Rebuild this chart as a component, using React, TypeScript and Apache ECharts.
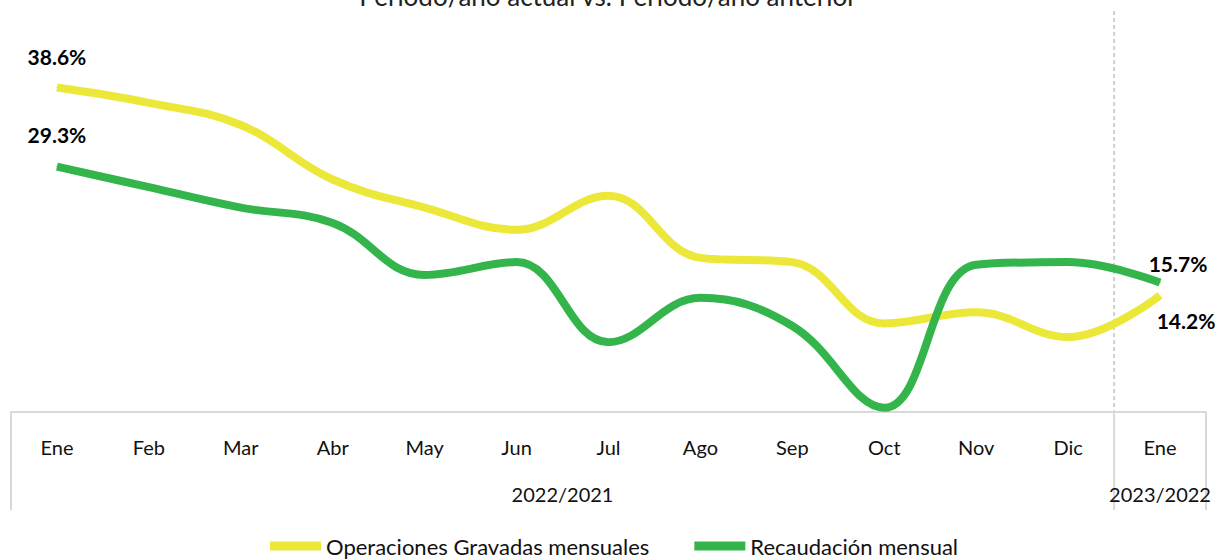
import React, { useEffect, useRef } from "react";
import * as echarts from "echarts";

const categories = ["Ene", "Feb", "Mar", "Abr", "May", "Jun", "Jul", "Ago", "Sep", "Oct", "Nov", "Dic", "Ene"];
const groupLabels = ["2022/2021", "2023/2022"];
const groupSizes = [12, 1];
const operaciones = [38.6, 36.8, 34.2, 27.8, 24.5, 21.9, 25.9, 18.6, 18.1, 10.9, 12.2, 9.3, 14.2];
const recaudacion = [29.3, 26.9, 24.5, 22.7, 16.6, 18.1, 8.7, 13.9, 10.6, 1.0, 17.8, 18.1, 15.7];
const seriesNames = ["Operaciones Gravadas mensuales", "Recaudación mensual"];
const titleText = "Período/año actual vs. Período/año anterior";

const FONT = "Lato, 'Noto Sans', sans-serif";

export default function App() {
  const ref = useRef<HTMLDivElement>(null);
  useEffect(() => {
    if (!ref.current) return;
    const chart = echarts.init(ref.current, null, { renderer: "svg" });
    const W = 1217;
    const gridLeft = 11;
    const gridRight = 11;
    const gridTop = 33;
    const gridBottom = 147;
    const plotW = W - gridLeft - gridRight;
    const catW = plotW / categories.length;
    const axisY = 559 - gridBottom;
    const lineColor = "#D9D9D9";

    const mkData = (vals: number[], firstDist: number, lastOffset: number[]) =>
      vals.map((v, i) => {
        if (i === 0) {
          return {
            value: v,
            label: { show: true, position: "top", distance: firstDist },
          };
        }
        if (i === vals.length - 1) {
          return {
            value: v,
            label: {
              show: true,
              position: "top",
              distance: 0,
              verticalAlign: "middle",
              offset: lastOffset,
            },
          };
        }
        return v;
      });

    const labelStyle = {
      formatter: (p: any) => p.value.toFixed(1) + "%",
      fontFamily: FONT,
      fontWeight: "bold",
      fontSize: 21,
      color: "#000",
    };

    const boundaries: number[] = [0];
    let acc = 0;
    groupSizes.forEach((s) => {
      acc += s;
      boundaries.push(acc);
    });

    const graphics: any[] = [];
    boundaries.forEach((b) => {
      const x = gridLeft + b * catW;
      graphics.push({
        type: "line",
        shape: { x1: x, y1: axisY, x2: x, y2: 510 },
        style: { stroke: lineColor, lineWidth: 2 },
        silent: true,
      });
    });
    const sepX = gridLeft + groupSizes[0] * catW;
    graphics.push({
      type: "line",
      shape: { x1: sepX, y1: 11, x2: sepX, y2: axisY },
      style: { stroke: "#A6A6A6", lineWidth: 1, lineDash: [4, 3] },
      silent: true,
    });
    let start = 0;
    groupSizes.forEach((s, gi) => {
      const cx = gridLeft + (start + s / 2) * catW;
      graphics.push({
        type: "text",
        x: cx,
        y: 494,
        style: {
          text: groupLabels[gi],
          fontFamily: FONT,
          fontSize: 20,
          fill: "#111",
          align: "center",
          verticalAlign: "middle",
        },
      });
      start += s;
    });
    graphics.push({
      type: "text",
      x: 608,
      y: -4,
      style: {
        text: titleText,
        fontFamily: FONT,
        fontSize: 26,
        fill: "#222",
        align: "center",
        verticalAlign: "middle",
      },
    });

    chart.setOption({
      animation: false,
      grid: { left: gridLeft, right: gridRight, top: gridTop, bottom: gridBottom, containLabel: false },
      legend: {
        data: seriesNames,
        left: 270,
        top: 535,
        padding: 0,
        itemGap: 45,
        itemWidth: 51,
        itemHeight: 9,
        icon: "rect",
        textStyle: { fontFamily: FONT, fontSize: 22, color: "#111" },
      },
      xAxis: {
        type: "category",
        data: categories,
        boundaryGap: true,
        axisLine: { show: true, lineStyle: { color: lineColor, width: 2 } },
        axisTick: { show: false },
        axisLabel: { margin: 25, fontFamily: FONT, fontSize: 20, color: "#111", interval: 0 },
        splitLine: { show: false },
      },
      yAxis: {
        type: "value",
        min: 0.5,
        max: 45,
        show: false,
        splitLine: { show: false },
      },
      series: [
        {
          name: seriesNames[0],
          type: "line",
          smooth: 0.4,
          symbol: "circle",
          symbolSize: 1,
          itemStyle: { color: "#ECE83A" },
          lineStyle: { color: "#ECE83A", width: 8, cap: "butt" },
          label: labelStyle,
          data: mkData(operaciones, 20, [26, 26]),
          z: 2,
        },
        {
          name: seriesNames[1],
          type: "line",
          smooth: 0.4,
          symbol: "circle",
          symbolSize: 1,
          itemStyle: { color: "#33B54C" },
          lineStyle: { color: "#33B54C", width: 8, cap: "butt" },
          label: labelStyle,
          data: mkData(recaudacion, 21, [18, -19]),
          z: 3,
        },
      ],
      graphic: graphics,
    });
    return () => chart.dispose();
  }, []);
  return (
    <div
      ref={ref}
      style={{ position: "fixed", left: 0, top: 0, width: 1217, height: 559, background: "#fff" }}
    />
  );
}
